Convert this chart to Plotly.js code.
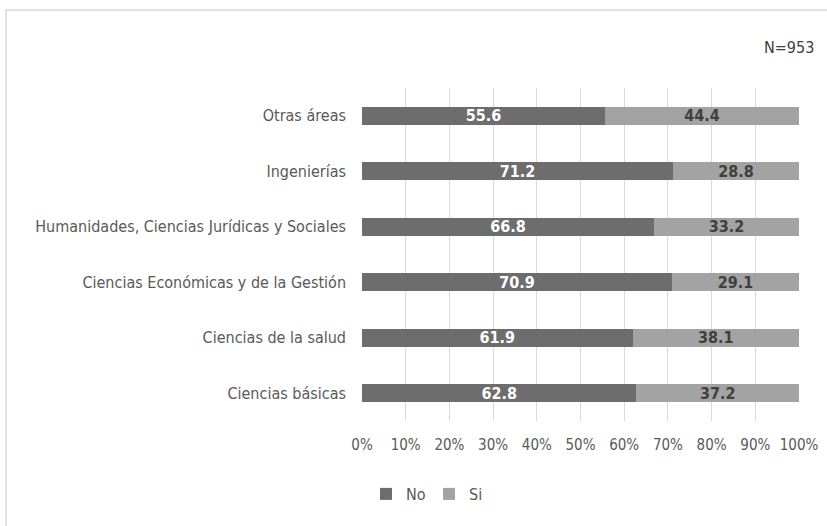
<!DOCTYPE html>
<html><head><meta charset="utf-8">
<script src="https://cdn.plot.ly/plotly-3.0.1.min.js"></script>
<style>html,body{margin:0;padding:0;background:#fff}</style>
</head><body><div id="chart" style="width:827px;height:526px"></div>
<script>
const categories = ["Ciencias básicas","Ciencias de la salud","Ciencias Económicas y de la Gestión","Humanidades, Ciencias Jurídicas y Sociales","Ingenierías","Otras áreas"];
const noValues = [62.8, 61.9, 70.9, 66.8, 71.2, 55.6];
const siValues = [37.2, 38.1, 29.1, 33.2, 28.8, 44.4];
const tickVals = [0,10,20,30,40,50,60,70,80,90,100];
const tickText = ["0%","10%","20%","30%","40%","50%","60%","70%","80%","90%","100%"];
const fontFam = '"DejaVu Sans Condensed", "Liberation Sans Narrow", Arial, sans-serif';

const traces = [
  {type:'bar', orientation:'h', name:'No', y:categories, x:noValues,
   marker:{color:'#6d6d6d'}, width:0.33,
   text:noValues.map(v=>v.toFixed(1)), textposition:'inside', insidetextanchor:'middle', constraintext:'none',
   textfont:{color:'#ffffff', size:16, family:fontFam, weight:'bold'}, hoverinfo:'none'},
  {type:'bar', orientation:'h', name:'Si', y:categories, x:siValues,
   marker:{color:'#a3a3a3'}, width:0.33,
   text:siValues.map(v=>v.toFixed(1)), textposition:'inside', insidetextanchor:'middle', constraintext:'none',
   textfont:{color:'#404040', size:16, family:fontFam, weight:'bold'}, hoverinfo:'none'}
];
const W = 437, H = 333, L = 362, T = 88;
const layout = {
  width:827, height:526, barmode:'stack',
  margin:{l:L, r:827-L-W, t:T, b:526-T-H},
  paper_bgcolor:'#fff', plot_bgcolor:'#fff',
  font:{family:fontFam, color:'#595959', size:15},
  xaxis:{range:[0,100], tickvals:tickVals, ticktext:tickText, showgrid:true, gridcolor:'#d9d9d9', gridwidth:1,
         zeroline:false, showline:false, ticks:'', ticklabelstandoff:13, tickfont:{size:15, color:'#595959'}, fixedrange:true},
  yaxis:{type:'category', categoryorder:'array', categoryarray:categories, showgrid:false, zeroline:false,
         showline:false, ticks:'', ticklabelstandoff:15, tickfont:{size:16, color:'#595959'}, automargin:false},
  showlegend:true,
  legend:{orientation:'h', x:(366-L)/W, xanchor:'left', y:-(494-T-H)/H, yanchor:'middle',
          font:{size:16, color:'#595959'}, itemwidth:30, entrywidth:18, traceorder:'normal'},
  annotations:[{text:'N=953', xref:'paper', yref:'paper', x:(816-L)/W, y:(T+H-47)/H, xanchor:'right', yanchor:'middle',
                showarrow:false, font:{size:16, color:'#404040'}}],
  shapes:[{type:'rect', xref:'paper', yref:'paper', x0:(6-L)/W, x1:(835-L)/W, y0:(T+H-535)/H, y1:(T+H-10)/H,
           line:{color:'#d9d9d9', width:1.5}, fillcolor:'rgba(0,0,0,0)', layer:'below'}]
};
Plotly.newPlot('chart', traces, layout, {displayModeBar:false, staticPlot:true});
</script></body></html>
